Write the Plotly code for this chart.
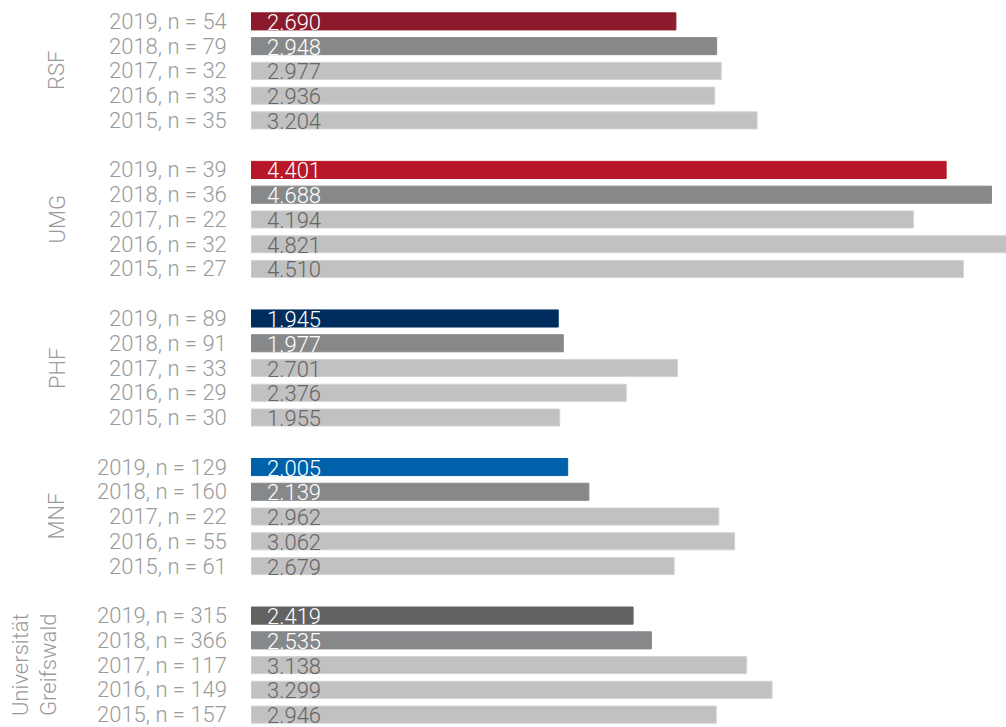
import plotly.graph_objects as go

# Groups (top to bottom) and the survey years shown within each group
groups = ["RSF", "UMG", "PHF", "MNF", "Universität<br>Greifswald"]
years = [2019, 2018, 2017, 2016, 2015]

# Sample sizes per group and year (2019 → 2015)
n_rsf = [54, 79, 32, 33, 35]
n_umg = [39, 36, 22, 32, 27]
n_phf = [89, 91, 33, 29, 30]
n_mnf = [129, 160, 22, 55, 61]
n_uni = [315, 366, 117, 149, 157]

# Values per group and year (2019 → 2015)
v_rsf = [2.690, 2.948, 2.977, 2.936, 3.204]
v_umg = [4.401, 4.688, 4.194, 4.821, 4.510]
v_phf = [1.945, 1.977, 2.701, 2.376, 1.955]
v_mnf = [2.005, 2.139, 2.962, 3.062, 2.679]
v_uni = [2.419, 2.535, 3.138, 3.299, 2.946]

n_all = [n_rsf, n_umg, n_phf, n_mnf, n_uni]
v_all = [v_rsf, v_umg, v_phf, v_mnf, v_uni]

# Highlight colour for the latest year of each group
highlight = ["#8c1a2c", "#b71727", "#002d5e", "#0061ab", "#626262"]
prev_color = "#87888a"
old_color = "#c1c1c1"

FONT = "Roboto"
LABEL_GREY = "#9a9a9a"

fig = go.Figure()

ys, xs, cols, lines = [], [], [], []
annotations = []
for g, (vals, ns) in enumerate(zip(v_all, n_all)):
    for r, (yr, v, n) in enumerate(zip(years, vals, ns)):
        slot = g * 6 + r
        ys.append(slot)
        xs.append(v)
        if r == 0:
            c, tc, lc = highlight[g], "white", highlight[g]
        elif r == 1:
            c, tc, lc = prev_color, "white", prev_color
        else:
            c, tc, lc = old_color, "#666666", "#d3d3d3"
        cols.append(c)
        lines.append(lc)
        # row label on the left
        annotations.append(dict(
            x=0, y=slot, xref="x", yref="y", xanchor="right", yanchor="middle",
            xshift=-22, text=f"{yr}, n = {n}", showarrow=False,
            font=dict(family=FONT, size=22, weight=300, color=LABEL_GREY)))
        # value inside the bar
        annotations.append(dict(
            x=0, y=slot, xref="x", yref="y", xanchor="left", yanchor="middle",
            xshift=14, yshift=-1, text=f"{v:.3f}", showarrow=False,
            font=dict(family=FONT, size=22, weight=300, color=tc)))
    # rotated group label
    annotations.append(dict(
        x=0, y=g * 6 + 2, xref="x", yref="y", xanchor="center", yanchor="middle",
        xshift=-194 if g < 4 else -216, text=groups[g], textangle=-90, showarrow=False,
        font=dict(family=FONT, size=22, weight=300, color=LABEL_GREY)))

fig.add_trace(go.Bar(
    x=xs, y=ys, orientation="h", width=0.69,
    marker=dict(color=cols, line=dict(color=lines, width=1)),
    hoverinfo="skip",
))

fig.update_layout(
    width=1006, height=727,
    margin=dict(l=251, r=0, t=9, b=0),
    paper_bgcolor="white", plot_bgcolor="white",
    showlegend=False,
    annotations=annotations,
    xaxis=dict(range=[0, 4.78], visible=False, fixedrange=True),
    yaxis=dict(range=[28.5, -0.5], visible=False, fixedrange=True),
)

fig.write_html("out.html")
